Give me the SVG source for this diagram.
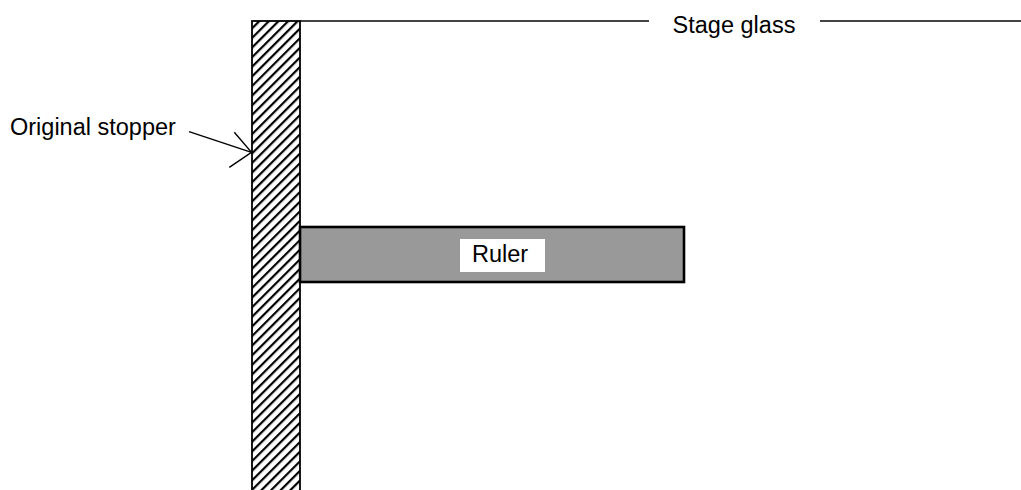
<svg xmlns="http://www.w3.org/2000/svg" width="1021" height="490" viewBox="0 0 1021 490">
<style>
text{font-family:"Liberation Sans",Arial,sans-serif;font-size:23.5px;fill:#000}
.glass{stroke:#444;stroke-width:2;fill:none}
.conn{stroke:#000;stroke-width:1.4;fill:none}
</style>
<defs>
<pattern id="hatch" patternUnits="userSpaceOnUse" width="6.8" height="6.8" patternTransform="rotate(45)">
<rect x="0" y="0" width="2.2" height="6.8" fill="#000"/>
</pattern>
</defs>
<rect width="1021" height="490" fill="#fff"/>
<g id="stage-glass">
<line class="glass" x1="300" y1="21" x2="649" y2="21"/>
<line class="glass" x1="820" y1="21" x2="1021" y2="21"/>
<text x="734" y="33" text-anchor="middle">Stage glass</text>
</g>
<g id="stopper">
<rect x="252" y="21" width="48" height="475" fill="url(#hatch)" stroke="#000" stroke-width="1.8"/>
</g>
<g id="ruler">
<rect x="300" y="227" width="384" height="55" fill="#999" stroke="#000" stroke-width="2.6"/>
<rect x="460" y="239" width="85" height="33" fill="#fff"/>
<text x="500" y="262" text-anchor="middle">Ruler</text>
</g>
<g id="label-stopper">
<text x="10" y="135">Original stopper</text>
</g>
<g id="connectors">
<line class="conn" x1="189" y1="131.7" x2="251.5" y2="152.3"/>
<polyline class="conn" points="234.3,132.3 251.5,152.3 229.3,167.3"/>
</g>
</svg>
